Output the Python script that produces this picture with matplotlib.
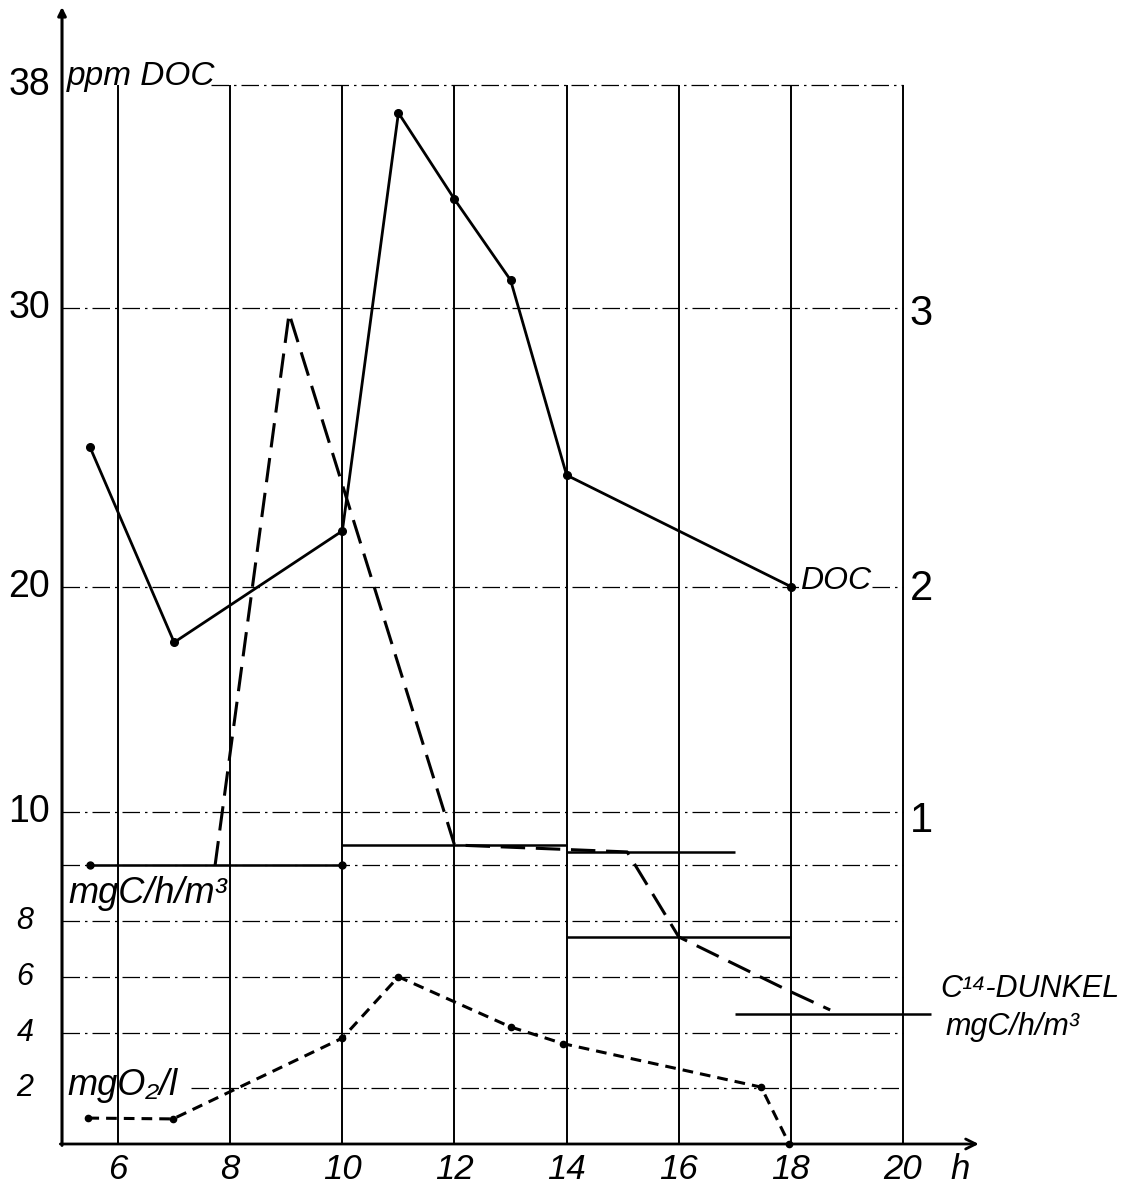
import matplotlib
matplotlib.use('Agg')
import matplotlib.pyplot as plt

FONT = ['Liberation Sans Narrow', 'Liberation Sans', 'DejaVu Sans']
plt.rcParams['font.family'] = FONT

# DOC in ppm (solid line with dots)
doc_h = [5.5, 7, 10, 11, 12, 13, 14, 18]
doc_ppm = [25.0, 18.0, 22.0, 37.0, 33.9, 31.0, 24.0, 20.0]

# C14 light uptake, mgC/h/m3 (right scale = left / 10), long dashes
hell_h = [7.73, 9.05, 12, 15.08, 16, 18, 18.7]
hell_val = [10.0, 29.8, 10.73, 10.48, 7.43, 5.46, 4.81]

# C14 dark uptake, one bar per incubation interval
dunkel_from = [5.5, 10, 14, 14, 17]
dunkel_to = [10, 14, 17, 18, 20.5]
dunkel_val = [10.0, 10.73, 10.48, 7.43, 4.66]

# oxygen mg O2/l (short dashes)
o2_h = [5.47, 6.98, 10, 11, 13, 13.94, 17.47, 17.97]
o2_val = [0.93, 0.9, 3.8, 6.0, 4.2, 3.6, 2.04, 0.0]

hours = [6, 8, 10, 12, 14, 16, 18, 20]
hour_labels = ['6', '8', '10', '12', '14', '16', '18', '20']
grid_y = [38, 30, 20, 11.9, 10, 8, 6, 4, 2]
grid_x0 = [7.65, 5, 5, 5, 5, 5, 5, 5, 7.3]
left_pos = [38, 30, 20, 11.9]
left_lab = ['38', '30', '20', '10']
o2_pos = [8, 6, 4, 2]
o2_lab = ['8', '6', '4', '2']
right_pos = [29.8, 19.9, 11.6]
right_lab = ['3', '2', '1']

fig = plt.figure(figsize=(11.22, 11.88), dpi=100)
ax = fig.add_axes([0, 0, 1, 1])
ax.set_xlim(3.894, 23.905)
ax.set_ylim(-1.579, 41.05)
ax.axis('off')

# grid
ax.vlines(hours, 0, 38, color='k', lw=1.4, zorder=1)
for y, x0 in zip(grid_y, grid_x0):
    ax.plot([x0, 20], [y, y], color='k', lw=0.9,
            linestyle=(0, (14, 4, 2, 4)), zorder=1)

# axes with arrows
ax.annotate('', xy=(5, 40.8), xytext=(5, -0.05),
            arrowprops=dict(arrowstyle='-|>', lw=2.2, color='k',
                            mutation_scale=12, shrinkA=0, shrinkB=0))
ax.annotate('', xy=(21.35, 0), xytext=(4.97, 0),
            arrowprops=dict(arrowstyle='->', lw=2.0, color='k',
                            mutation_scale=18, shrinkA=0, shrinkB=0))

# series
ax.plot(doc_h, doc_ppm, color='k', lw=2.0, marker='o', ms=5.5, zorder=4)
ax.plot(hell_h, hell_val, color='k', lw=2.2, dashes=(8, 3.5), zorder=4)
ax.hlines(dunkel_val, dunkel_from, dunkel_to, color='k', lw=1.8, zorder=3)
ax.plot([dunkel_from[0], dunkel_to[0]], [dunkel_val[0]] * 2, 'o',
        color='k', ms=5, zorder=4)
ax.plot(o2_h, o2_val, color='k', lw=2.2, dashes=(3.5, 2.3),
        marker='o', ms=4.5, zorder=4)

# tick labels
for y, t in zip(left_pos, left_lab):
    ax.text(4.42, y, t, ha='center', va='center', fontsize=27)
for y, t in zip(o2_pos, o2_lab):
    ax.text(4.34, y, t, ha='center', va='center', fontsize=22, style='italic')
for y, t in zip(right_pos, right_lab):
    ax.text(20.12, y, t, ha='left', va='center', fontsize=30)
for x, t in zip(hours, hour_labels):
    ax.text(x, -0.93, t, ha='center', va='center', fontsize=25, style='italic')
ax.text(21.02, -0.93, 'h', ha='center', va='center', fontsize=25, style='italic')

# annotations
ax.text(5.09, 38.0, 'ppm DOC', ha='left', va='baseline', fontsize=24,
        style='italic')
ax.text(18.16, 20.2, 'DOC', ha='left', va='center', fontsize=23,
        style='italic', bbox=dict(fc='white', ec='none', pad=0.5), zorder=5)
ax.text(5.11, 9.0, 'mgC/h/m³', ha='left', va='center', fontsize=26,
        style='italic')
ax.text(5.09, 2.1, 'mgO₂/l', ha='left', va='center', fontsize=26,
        style='italic')
ax.text(20.66, 5.55, 'C¹⁴-DUNKEL', ha='left', va='center', fontsize=22,
        style='italic')
ax.text(20.75, 4.2, 'mgC/h/m³', ha='left', va='center', fontsize=22,
        style='italic')

fig.savefig('out.png', dpi=100)
plt.close(fig)
